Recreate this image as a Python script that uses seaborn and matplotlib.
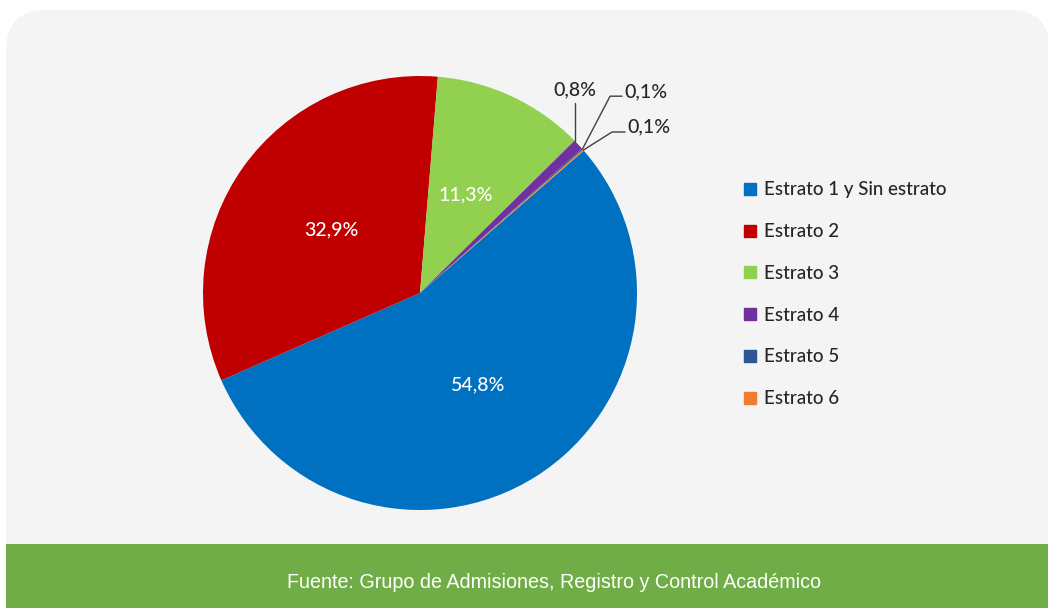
import numpy as np
import matplotlib
matplotlib.use("Agg")
import matplotlib.pyplot as plt
import seaborn as sns
from matplotlib.patches import FancyBboxPatch, Rectangle
from matplotlib.lines import Line2D

# Data
categories = ["Estrato 1 y Sin estrato", "Estrato 2", "Estrato 3",
              "Estrato 4", "Estrato 5", "Estrato 6"]
shares = [54.8, 32.9, 11.3, 0.8, 0.1, 0.1]
colors = ["#0070C0", "#C00000", "#92D050", "#7030A0", "#2F5597", "#ED7D31"]
source_note = "Fuente: Grupo de Admisiones, Registro y Control Académico"

sns.set_style("white")
plt.rcParams['font.family'] = ['Lato', 'DejaVu Sans']
plt.rcParams['font.weight'] = 'medium'

W, H = 1048, 609
fig = plt.figure(figsize=(W / 100, H / 100), dpi=100)
fig.patch.set_facecolor("white")

# background panel in pixel units
bg = fig.add_axes([0, 0, 1, 1], zorder=0)
bg.set_xlim(0, W)
bg.set_ylim(H, 0)
bg.axis("off")
bg.add_patch(FancyBboxPatch((6, 10), 1044, 598,
                            boxstyle="round,pad=0,rounding_size=40",
                            facecolor="#F4F4F4", edgecolor="none"))
bg.add_patch(Rectangle((6, 544), 1044, 64, facecolor="#70AD47",
                       edgecolor="none"))
bg.text(554, 582, source_note, color="white", fontsize=14.2,
        family=["Liberation Sans", "DejaVu Sans"], fontweight="normal",
        ha="center", va="center")

# pie
cx, cy, r = 420, 293, 217
ax = fig.add_axes([(cx - r) / W, (H - cy - r) / H, 2 * r / W, 2 * r / H],
                  zorder=1)
ax.set_facecolor("none")
wedges, _ = ax.pie(shares, colors=colors, startangle=41, counterclock=False,
                   radius=1, wedgeprops=dict(linewidth=0))
ax.set_xlim(-1, 1)
ax.set_ylim(-1, 1)


def fmt(v):
    return f"{v:.1f}".replace(".", ",") + "%"


# inner labels
for w, v in zip(wedges[:3], shares[:3]):
    ang = np.deg2rad((w.theta1 + w.theta2) / 2)
    ax.text(0.5 * np.cos(ang), 0.5 * np.sin(ang), fmt(v), color="white",
            fontsize=14, ha="center", va="center")

# small slices with leader lines
w = wedges[3]
px, py = np.cos(np.deg2rad(w.theta2)), np.sin(np.deg2rad(w.theta2))
ax.plot([px, px], [py, 0.875], color="#404040", lw=1, clip_on=False)
ax.text(px, 0.935, fmt(shares[3]), fontsize=14, ha="center", va="center")

elbows = [(0.876, 0.907, 0.931), (0.885, 0.742, 0.945)]
for w, v, (ex, ey, tx) in zip(wedges[4:], shares[4:], elbows):
    ang = np.deg2rad((w.theta1 + w.theta2) / 2)
    px, py = np.cos(ang), np.sin(ang)
    ax.plot([px, ex, tx], [py, ey, ey], color="#404040", lw=1, clip_on=False)
    ax.text(tx + 0.012, ey + 0.022, fmt(v), fontsize=14, ha="left",
            va="center")

# legend
handles = [Line2D([], [], marker="s", linestyle="none", markersize=8,
                  markerfacecolor=c, markeredgecolor=c) for c in colors]
fig.legend(handles, categories, loc="upper left",
           bbox_to_anchor=(735 / W, 1 - 174 / H), frameon=False,
           fontsize=13.5, labelspacing=1.32, handlelength=0.8,
           handletextpad=0.35, borderaxespad=0)

fig.savefig("out.png", dpi=100, facecolor=fig.get_facecolor())
